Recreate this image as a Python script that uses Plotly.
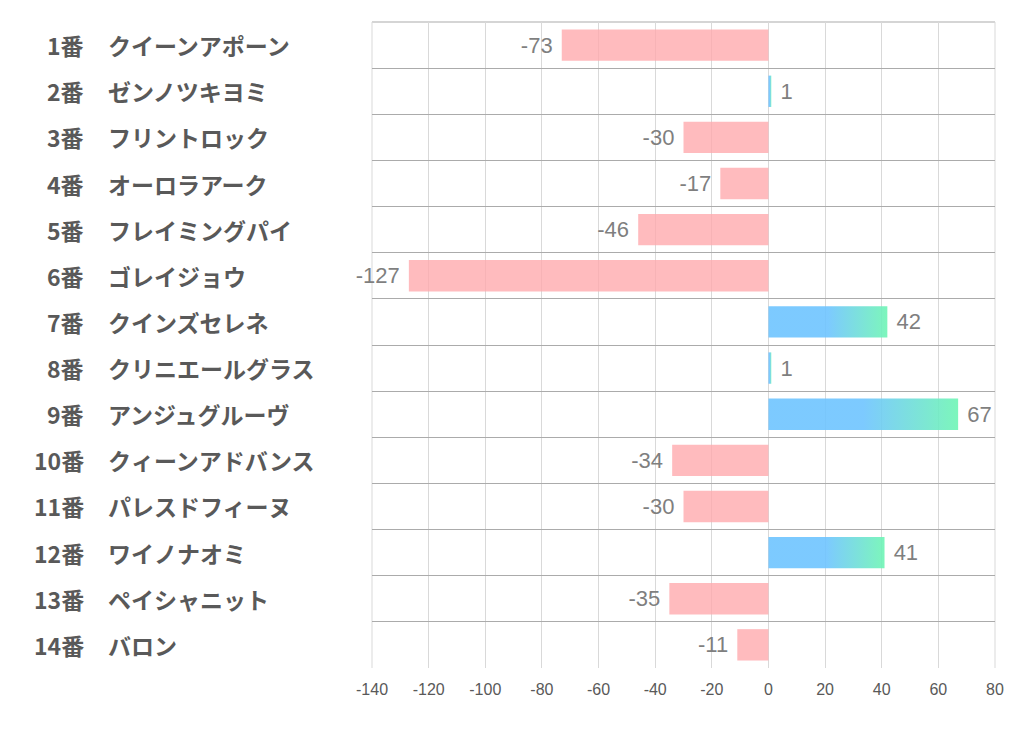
import plotly.graph_objects as go

numbers = ["1番", "2番", "3番", "4番", "5番", "6番", "7番", "8番", "9番", "10番", "11番", "12番", "13番", "14番"]
names = ["クイーンアポーン", "ゼンノツキヨミ", "フリントロック", "オーロラアーク", "フレイミングパイ",
         "ゴレイジョウ", "クインズセレネ", "クリニエールグラス", "アンジュグルーヴ", "クィーンアドバンス",
         "パレスドフィーヌ", "ワイノナオミ", "ペイシャニット", "バロン"]
values = [-73, 1, -30, -17, -46, -127, 42, 1, 67, -34, -30, 41, -35, -11]
x_ticks = [-140, -120, -100, -80, -60, -40, -20, 0, 20, 40, 60, 80]

PINK = "rgba(255,168,172,0.78)"
BLUE = "rgba(110,196,255,0.9)"
GREEN = "rgba(110,245,180,0.9)"
BAR_W = 0.68
NB = "\u00a0"

ypos = list(range(len(values)))
fig = go.Figure()

# positive bars drawn as gradient-filled polygons (computed from data)
for i, v in enumerate(values):
    if v > 0:
        h = BAR_W / 2
        fig.add_trace(go.Scatter(
            x=[0, v, v, 0, 0], y=[i - h, i - h, i + h, i + h, i - h],
            mode="lines", line=dict(width=0), fill="toself",
            fillgradient=dict(type="horizontal", start=0, stop=v,
                              colorscale=[[0, BLUE], [0.5, BLUE], [1, GREEN]]),
            hoverinfo="skip", showlegend=False))

colors = [PINK if v < 0 else "rgba(0,0,0,0)" for v in values]
labels = [(NB + str(v)) if v > 0 else (str(v) + NB) for v in values]
fig.add_trace(go.Bar(
    x=values, y=ypos, orientation="h", width=BAR_W,
    marker=dict(color=colors, line=dict(width=0)),
    text=labels, textposition="outside",
    textfont=dict(family="Liberation Sans Narrow, Liberation Sans, sans-serif", size=22, color="#7F7F7F"),
    cliponaxis=False, showlegend=False))

annotations = []
for i, (n, nm) in enumerate(zip(numbers, names)):
    annotations.append(dict(x=0, y=i, xref="paper", yref="y", text=n, showarrow=False,
                            xanchor="right", xshift=-286,
                            font=dict(family="Noto Sans CJK JP", size=23, color="#595959", weight="bold")))
    annotations.append(dict(x=0, y=i, xref="paper", yref="y", text=nm, showarrow=False,
                            xanchor="left", xshift=-266,
                            font=dict(family="Noto Sans CJK JP", size=23, color="#595959", weight="bold")))

shapes = [
    dict(type="line", xref="paper", yref="paper", x0=0, x1=1, y0=1, y1=1,
         line=dict(color="#ABABAB", width=1), layer="below"),
    dict(type="line", xref="paper", yref="paper", x0=0, x1=0, y0=0, y1=1,
         line=dict(color="#D9D9D9", width=1), layer="below"),
    dict(type="line", xref="paper", yref="paper", x0=1, x1=1, y0=0, y1=1,
         line=dict(color="#D9D9D9", width=1), layer="below"),
]

fig.update_layout(
    width=1014, height=722,
    margin=dict(l=364, r=27, t=14, b=62),
    paper_bgcolor="white", plot_bgcolor="white",
    annotations=annotations, shapes=shapes,
    xaxis=dict(range=[-140.02, 80.02], tickvals=x_ticks, ticktext=[str(t) for t in x_ticks],
               showgrid=True, gridcolor="#D9D9D9", gridwidth=1, zeroline=False,
               showline=False, ticks="", ticklabelstandoff=10,
               tickfont=dict(family="Liberation Sans Narrow, Liberation Sans, sans-serif", size=16, color="#595959")),
    yaxis=dict(range=[13.502, -0.502], tickvals=[i - 0.5 for i in range(15)],
               showticklabels=False, showgrid=True, gridcolor="#ABABAB", gridwidth=1,
               zeroline=False, showline=False, ticks=""),
)

fig.write_html("out.html")
